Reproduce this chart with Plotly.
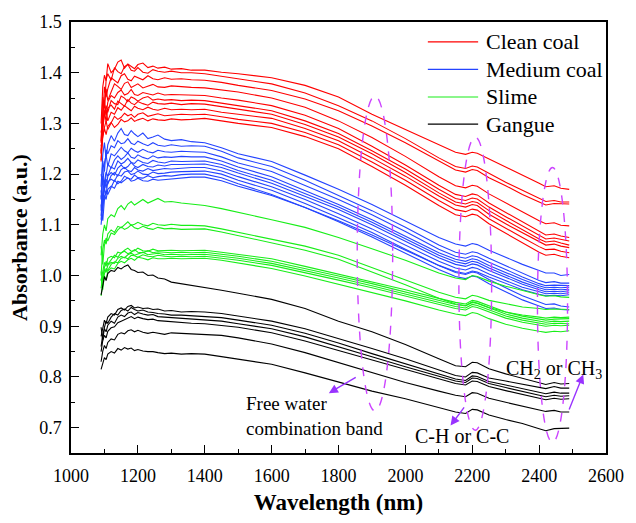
import plotly.graph_objects as go

# ---------------- data ----------------
WAVELENGTH = [1090, 1095, 1100, 1105, 1110, 1120, 1130, 1140, 1150, 1160,
              1170, 1180, 1190, 1200, 1215, 1230, 1245, 1260, 1280, 1300,
              1330, 1360, 1400, 1450, 1500, 1600, 1700, 1800, 1900, 2000,
              2100, 2150, 2180, 2200, 2215, 2250, 2300, 2350, 2400, 2420,
              2445, 2465, 2490]

CLEAN_COAL = [
    [1.300, 1.372, 1.395, 1.384, 1.418, 1.400, 1.407, 1.421, 1.425, 1.409, 1.417, 1.412, 1.408, 1.416, 1.419, 1.410, 1.413, 1.409, 1.411, 1.407, 1.408, 1.405, 1.405, 1.401,
     1.398, 1.390, 1.375, 1.352, 1.318, 1.288, 1.258, 1.243, 1.239, 1.243, 1.241, 1.230, 1.215, 1.198, 1.182, 1.175, 1.177, 1.172, 1.170],
    [1.265, 1.352, 1.330, 1.386, 1.398, 1.385, 1.410, 1.402, 1.398, 1.412, 1.416, 1.405, 1.403, 1.410, 1.401, 1.399, 1.406, 1.403, 1.401, 1.403, 1.400, 1.400, 1.398, 1.393,
     1.388, 1.378, 1.360, 1.335, 1.305, 1.270, 1.232, 1.215, 1.211, 1.216, 1.214, 1.201, 1.184, 1.168, 1.152, 1.146, 1.148, 1.145, 1.145],
    [1.245, 1.318, 1.372, 1.352, 1.368, 1.390, 1.385, 1.380, 1.394, 1.398, 1.387, 1.384, 1.393, 1.390, 1.386, 1.394, 1.388, 1.386, 1.390, 1.387, 1.388, 1.386, 1.385, 1.381,
     1.375, 1.365, 1.348, 1.325, 1.295, 1.262, 1.225, 1.208, 1.204, 1.209, 1.207, 1.193, 1.177, 1.160, 1.145, 1.139, 1.142, 1.142, 1.141],
    [1.240, 1.300, 1.338, 1.368, 1.345, 1.362, 1.378, 1.373, 1.367, 1.379, 1.382, 1.371, 1.374, 1.378, 1.370, 1.373, 1.377, 1.372, 1.371, 1.374, 1.372, 1.371, 1.370, 1.366,
     1.362, 1.350, 1.332, 1.305, 1.272, 1.235, 1.195, 1.177, 1.173, 1.178, 1.176, 1.161, 1.143, 1.125, 1.108, 1.102, 1.104, 1.099, 1.098],
    [1.262, 1.320, 1.346, 1.316, 1.342, 1.355, 1.350, 1.361, 1.366, 1.356, 1.359, 1.367, 1.357, 1.355, 1.361, 1.358, 1.356, 1.360, 1.356, 1.357, 1.356, 1.355, 1.355, 1.350,
     1.346, 1.335, 1.316, 1.290, 1.255, 1.218, 1.178, 1.160, 1.156, 1.161, 1.159, 1.143, 1.124, 1.105, 1.087, 1.080, 1.082, 1.078, 1.075],
    [1.228, 1.298, 1.318, 1.335, 1.322, 1.345, 1.339, 1.337, 1.354, 1.350, 1.343, 1.352, 1.349, 1.344, 1.350, 1.353, 1.346, 1.348, 1.346, 1.347, 1.345, 1.346, 1.345, 1.340,
     1.336, 1.325, 1.305, 1.280, 1.246, 1.210, 1.170, 1.152, 1.148, 1.153, 1.151, 1.135, 1.116, 1.097, 1.079, 1.072, 1.074, 1.071, 1.068],
    [1.282, 1.310, 1.326, 1.302, 1.330, 1.336, 1.328, 1.344, 1.338, 1.334, 1.347, 1.340, 1.337, 1.343, 1.339, 1.336, 1.342, 1.339, 1.338, 1.340, 1.337, 1.339, 1.338, 1.333,
     1.328, 1.318, 1.298, 1.273, 1.240, 1.203, 1.163, 1.145, 1.141, 1.146, 1.144, 1.128, 1.109, 1.090, 1.072, 1.066, 1.068, 1.064, 1.060],
    [1.242, 1.290, 1.316, 1.325, 1.305, 1.322, 1.318, 1.331, 1.326, 1.335, 1.330, 1.325, 1.334, 1.330, 1.327, 1.332, 1.328, 1.326, 1.330, 1.327, 1.328, 1.327, 1.328, 1.322,
     1.318, 1.310, 1.290, 1.266, 1.232, 1.196, 1.157, 1.139, 1.135, 1.140, 1.138, 1.121, 1.102, 1.084, 1.066, 1.060, 1.062, 1.058, 1.055],
    [1.225, 1.275, 1.292, 1.305, 1.288, 1.300, 1.314, 1.308, 1.312, 1.320, 1.315, 1.318, 1.312, 1.318, 1.321, 1.314, 1.316, 1.319, 1.315, 1.316, 1.318, 1.317, 1.318, 1.313,
     1.308, 1.300, 1.282, 1.258, 1.224, 1.188, 1.148, 1.130, 1.126, 1.131, 1.129, 1.112, 1.093, 1.075, 1.057, 1.051, 1.052, 1.048, 1.045],
    [1.255, 1.270, 1.290, 1.278, 1.294, 1.302, 1.292, 1.298, 1.308, 1.303, 1.305, 1.311, 1.304, 1.307, 1.310, 1.305, 1.309, 1.307, 1.306, 1.309, 1.307, 1.308, 1.310, 1.305,
     1.300, 1.292, 1.274, 1.250, 1.215, 1.178, 1.138, 1.120, 1.116, 1.121, 1.119, 1.102, 1.083, 1.064, 1.046, 1.040, 1.042, 1.038, 1.035],
]

MEDIUM_COAL = [
    [1.175, 1.238, 1.262, 1.230, 1.258, 1.276, 1.265, 1.281, 1.290, 1.278, 1.276, 1.286, 1.279, 1.274, 1.281, 1.270, 1.273, 1.277, 1.269, 1.266, 1.268, 1.264, 1.262, 1.252,
     1.240, 1.225, 1.198, 1.170, 1.140, 1.108, 1.075, 1.062, 1.058, 1.063, 1.061, 1.050, 1.036, 1.022, 1.010, 1.005, 1.005, 1.000, 1.002],
    [1.150, 1.226, 1.205, 1.248, 1.240, 1.256, 1.252, 1.266, 1.260, 1.262, 1.270, 1.261, 1.258, 1.265, 1.260, 1.256, 1.262, 1.257, 1.255, 1.258, 1.255, 1.256, 1.255, 1.245,
     1.232, 1.215, 1.188, 1.158, 1.128, 1.095, 1.060, 1.046, 1.042, 1.047, 1.045, 1.034, 1.019, 1.004, 0.990, 0.986, 0.988, 0.985, 0.985],
    [1.200, 1.178, 1.222, 1.238, 1.215, 1.240, 1.236, 1.245, 1.253, 1.246, 1.242, 1.251, 1.246, 1.243, 1.249, 1.244, 1.242, 1.247, 1.244, 1.243, 1.245, 1.244, 1.243, 1.234,
     1.222, 1.205, 1.178, 1.150, 1.120, 1.087, 1.052, 1.038, 1.034, 1.039, 1.037, 1.026, 1.012, 0.997, 0.984, 0.980, 0.981, 0.980, 0.980],
    [1.128, 1.196, 1.175, 1.198, 1.220, 1.212, 1.228, 1.236, 1.229, 1.234, 1.242, 1.233, 1.231, 1.238, 1.233, 1.230, 1.236, 1.232, 1.234, 1.233, 1.235, 1.234, 1.234, 1.226,
     1.214, 1.195, 1.168, 1.140, 1.110, 1.078, 1.045, 1.032, 1.028, 1.033, 1.031, 1.020, 1.006, 0.992, 0.980, 0.976, 0.977, 0.976, 0.977],
    [1.168, 1.142, 1.186, 1.204, 1.196, 1.214, 1.210, 1.226, 1.220, 1.224, 1.231, 1.223, 1.221, 1.228, 1.223, 1.221, 1.227, 1.224, 1.222, 1.226, 1.225, 1.226, 1.226, 1.219,
     1.207, 1.188, 1.162, 1.135, 1.105, 1.073, 1.040, 1.027, 1.023, 1.028, 1.026, 1.015, 1.001, 0.987, 0.976, 0.972, 0.973, 0.972, 0.973],
    [1.118, 1.165, 1.188, 1.172, 1.196, 1.203, 1.198, 1.212, 1.218, 1.211, 1.215, 1.223, 1.216, 1.213, 1.219, 1.215, 1.214, 1.218, 1.216, 1.219, 1.219, 1.220, 1.220, 1.213,
     1.202, 1.182, 1.156, 1.130, 1.100, 1.068, 1.035, 1.022, 1.018, 1.023, 1.021, 1.010, 0.997, 0.983, 0.972, 0.968, 0.969, 0.968, 0.970],
    [1.158, 1.127, 1.172, 1.190, 1.180, 1.197, 1.203, 1.196, 1.209, 1.213, 1.207, 1.205, 1.213, 1.208, 1.206, 1.211, 1.207, 1.209, 1.211, 1.210, 1.212, 1.213, 1.213, 1.206,
     1.195, 1.175, 1.150, 1.122, 1.092, 1.060, 1.028, 1.015, 1.011, 1.016, 1.014, 1.003, 0.990, 0.977, 0.968, 0.964, 0.965, 0.964, 0.966],
    [1.110, 1.155, 1.172, 1.160, 1.185, 1.190, 1.186, 1.199, 1.196, 1.204, 1.206, 1.199, 1.201, 1.206, 1.200, 1.199, 1.204, 1.201, 1.202, 1.204, 1.205, 1.206, 1.206, 1.200,
     1.188, 1.168, 1.142, 1.114, 1.085, 1.052, 1.020, 1.006, 1.002, 1.007, 1.005, 0.992, 0.976, 0.960, 0.948, 0.943, 0.944, 0.940, 0.938],
    [1.140, 1.108, 1.150, 1.166, 1.160, 1.174, 1.188, 1.181, 1.186, 1.196, 1.192, 1.190, 1.198, 1.193, 1.192, 1.197, 1.193, 1.195, 1.197, 1.196, 1.199, 1.200, 1.200, 1.193,
     1.181, 1.160, 1.134, 1.106, 1.076, 1.044, 1.012, 0.998, 0.994, 0.999, 0.997, 0.984, 0.968, 0.952, 0.940, 0.935, 0.936, 0.933, 0.932],
    [1.100, 1.140, 1.158, 1.150, 1.170, 1.176, 1.172, 1.186, 1.183, 1.188, 1.193, 1.186, 1.188, 1.192, 1.187, 1.186, 1.190, 1.188, 1.189, 1.191, 1.192, 1.194, 1.194, 1.187,
     1.176, 1.158, 1.134, 1.108, 1.080, 1.050, 1.020, 1.008, 1.004, 1.009, 1.007, 0.997, 0.985, 0.972, 0.963, 0.960, 0.961, 0.960, 0.962],
]

SLIME = [
    [1.040, 1.082, 1.100, 1.088, 1.112, 1.120, 1.116, 1.132, 1.138, 1.130, 1.141, 1.146, 1.139, 1.144, 1.150, 1.143, 1.147, 1.152, 1.145, 1.146, 1.143, 1.141, 1.138, 1.132,
     1.125, 1.110, 1.095, 1.075, 1.053, 1.030, 1.005, 0.995, 0.992, 1.000, 0.998, 0.989, 0.979, 0.970, 0.962, 0.959, 0.960, 0.958, 0.957],
    [1.000, 1.052, 1.070, 1.062, 1.082, 1.090, 1.085, 1.097, 1.094, 1.101, 1.106, 1.099, 1.101, 1.105, 1.100, 1.098, 1.103, 1.100, 1.099, 1.101, 1.099, 1.099, 1.098, 1.092,
     1.085, 1.072, 1.058, 1.040, 1.016, 0.992, 0.967, 0.957, 0.954, 0.961, 0.959, 0.951, 0.944, 0.938, 0.935, 0.933, 0.934, 0.933, 0.933],
    [1.058, 1.022, 1.060, 1.074, 1.068, 1.084, 1.081, 1.090, 1.096, 1.091, 1.094, 1.100, 1.094, 1.092, 1.097, 1.093, 1.091, 1.095, 1.092, 1.093, 1.091, 1.092, 1.092, 1.086,
     1.079, 1.065, 1.050, 1.032, 1.007, 0.982, 0.955, 0.944, 0.941, 0.948, 0.946, 0.937, 0.928, 0.922, 0.918, 0.916, 0.918, 0.917, 0.918],
    [0.990, 1.012, 1.026, 1.018, 1.034, 1.038, 1.035, 1.046, 1.044, 1.050, 1.054, 1.048, 1.049, 1.054, 1.049, 1.048, 1.052, 1.049, 1.050, 1.050, 1.049, 1.049, 1.050, 1.046,
     1.042, 1.033, 1.018, 1.003, 0.988, 0.972, 0.955, 0.947, 0.944, 0.951, 0.949, 0.940, 0.928, 0.920, 0.914, 0.912, 0.914, 0.914, 0.915],
    [1.008, 0.986, 1.016, 1.028, 1.022, 1.032, 1.040, 1.036, 1.045, 1.048, 1.043, 1.046, 1.051, 1.046, 1.045, 1.049, 1.045, 1.047, 1.046, 1.045, 1.046, 1.045, 1.046, 1.042,
     1.038, 1.028, 1.014, 0.999, 0.984, 0.968, 0.951, 0.943, 0.940, 0.947, 0.945, 0.936, 0.924, 0.916, 0.910, 0.908, 0.910, 0.909, 0.910],
    [0.975, 1.000, 1.012, 1.006, 1.020, 1.026, 1.024, 1.034, 1.038, 1.035, 1.041, 1.044, 1.040, 1.042, 1.046, 1.041, 1.043, 1.044, 1.041, 1.042, 1.041, 1.042, 1.042, 1.038,
     1.034, 1.024, 1.010, 0.995, 0.980, 0.964, 0.947, 0.939, 0.936, 0.943, 0.941, 0.932, 0.920, 0.912, 0.906, 0.904, 0.906, 0.905, 0.905],
    [0.994, 0.972, 1.004, 1.014, 1.010, 1.022, 1.027, 1.025, 1.034, 1.036, 1.033, 1.040, 1.039, 1.036, 1.041, 1.038, 1.037, 1.040, 1.038, 1.037, 1.038, 1.037, 1.038, 1.034,
     1.030, 1.020, 1.006, 0.991, 0.976, 0.960, 0.943, 0.935, 0.932, 0.939, 0.937, 0.928, 0.916, 0.908, 0.902, 0.900, 0.902, 0.901, 0.902],
    [0.960, 0.985, 0.998, 0.992, 1.008, 1.015, 1.013, 1.024, 1.028, 1.025, 1.031, 1.034, 1.030, 1.036, 1.034, 1.031, 1.035, 1.033, 1.033, 1.034, 1.033, 1.034, 1.034, 1.030,
     1.025, 1.014, 0.999, 0.983, 0.967, 0.950, 0.932, 0.924, 0.921, 0.927, 0.925, 0.915, 0.904, 0.896, 0.890, 0.888, 0.890, 0.889, 0.891],
]

GANGUE = [
    [0.962, 0.985, 0.998, 0.990, 1.004, 1.010, 1.008, 1.016, 1.013, 1.018, 1.021, 1.012, 1.010, 1.006, 1.007, 1.000, 1.001, 0.995, 0.993, 0.987, 0.984, 0.980, 0.976, 0.971,
     0.965, 0.953, 0.935, 0.910, 0.889, 0.864, 0.836, 0.822, 0.820, 0.829, 0.828, 0.816, 0.806, 0.797, 0.789, 0.785, 0.789, 0.786, 0.787],
    [0.880, 0.900, 0.912, 0.905, 0.918, 0.925, 0.922, 0.933, 0.936, 0.932, 0.939, 0.941, 0.936, 0.938, 0.935, 0.936, 0.933, 0.934, 0.930, 0.931, 0.928, 0.929, 0.928, 0.925,
     0.920, 0.910, 0.895, 0.876, 0.856, 0.836, 0.815, 0.803, 0.800, 0.809, 0.808, 0.798, 0.792, 0.786, 0.780, 0.777, 0.781, 0.778, 0.778],
    [0.898, 0.872, 0.898, 0.910, 0.906, 0.918, 0.925, 0.922, 0.931, 0.934, 0.930, 0.937, 0.933, 0.930, 0.932, 0.928, 0.927, 0.925, 0.924, 0.922, 0.922, 0.921, 0.920, 0.917,
     0.912, 0.902, 0.886, 0.867, 0.846, 0.826, 0.806, 0.796, 0.793, 0.802, 0.801, 0.791, 0.784, 0.777, 0.770, 0.767, 0.770, 0.768, 0.768],
    [0.860, 0.884, 0.895, 0.889, 0.902, 0.910, 0.906, 0.918, 0.922, 0.919, 0.926, 0.928, 0.923, 0.927, 0.924, 0.922, 0.923, 0.919, 0.918, 0.917, 0.915, 0.914, 0.912, 0.910,
     0.905, 0.895, 0.879, 0.860, 0.840, 0.820, 0.801, 0.792, 0.789, 0.798, 0.797, 0.787, 0.779, 0.772, 0.764, 0.761, 0.764, 0.762, 0.763],
    [0.850, 0.872, 0.882, 0.877, 0.890, 0.897, 0.899, 0.907, 0.910, 0.913, 0.916, 0.919, 0.915, 0.918, 0.915, 0.913, 0.914, 0.911, 0.910, 0.909, 0.907, 0.906, 0.905, 0.902,
     0.898, 0.887, 0.871, 0.852, 0.833, 0.814, 0.796, 0.787, 0.784, 0.792, 0.791, 0.781, 0.773, 0.766, 0.758, 0.755, 0.758, 0.756, 0.757],
    [0.830, 0.851, 0.862, 0.856, 0.868, 0.875, 0.873, 0.884, 0.887, 0.885, 0.891, 0.893, 0.889, 0.892, 0.888, 0.886, 0.888, 0.886, 0.884, 0.887, 0.886, 0.886, 0.885, 0.882,
     0.877, 0.865, 0.848, 0.828, 0.808, 0.789, 0.772, 0.764, 0.761, 0.769, 0.768, 0.758, 0.750, 0.743, 0.736, 0.732, 0.734, 0.731, 0.731],
    [0.815, 0.828, 0.838, 0.834, 0.845, 0.850, 0.847, 0.856, 0.853, 0.858, 0.855, 0.857, 0.852, 0.854, 0.851, 0.850, 0.850, 0.848, 0.846, 0.847, 0.845, 0.846, 0.845, 0.840,
     0.835, 0.825, 0.808, 0.790, 0.772, 0.757, 0.740, 0.731, 0.728, 0.736, 0.735, 0.725, 0.716, 0.708, 0.698, 0.694, 0.698, 0.698, 0.699],
]

GROUP_NAMES = ["Clean coal", "Medium coal", "Slime", "Gangue"]
X_TICKS = [1000, 1200, 1400, 1600, 1800, 2000, 2200, 2400, 2600]
Y_TICKS = [0.7, 0.8, 0.9, 1.0, 1.1, 1.2, 1.3, 1.4, 1.5]

# ---------------- styling ----------------
FONT = "Liberation Serif"
COLORS = ["#FF0000", "#2444FF", "#18EE18", "#000000"]
ELLIPSE_COLOR = "#CC44FF"
ARROW_COLOR = "#9933FF"

fig = go.Figure()
for curves, color, name in zip([CLEAN_COAL, MEDIUM_COAL, SLIME, GANGUE], COLORS, GROUP_NAMES):
    for ys in curves:
        fig.add_trace(go.Scatter(x=WAVELENGTH, y=ys, mode="lines", name=name,
                                 legendgroup=name, showlegend=False,
                                 line=dict(color=color, width=1.1)))

# dashed ellipses marking absorption bands
for (xa, xb, ya, yb) in [(1856, 1962, 0.733, 1.354), (2160, 2258, 0.695, 1.273), (2395, 2485, 0.671, 1.213)]:
    fig.add_shape(type="circle", xref="x", yref="y", x0=xa, x1=xb, y0=ya, y1=yb,
                  line=dict(color=ELLIPSE_COLOR, width=1.4, dash="dash"))

# manual legend
leg_y = [0.954, 0.890, 0.826, 0.763]
for name, color, yy in zip(GROUP_NAMES, COLORS, leg_y):
    fig.add_shape(type="line", xref="paper", yref="paper", x0=0.667, x1=0.761, y0=yy, y1=yy,
                  line=dict(color=color, width=1.2))
    fig.add_annotation(xref="paper", yref="paper", x=0.772, y=yy, text=name, showarrow=False,
                       xanchor="left", yanchor="middle", font=dict(family=FONT, size=22, color="black"))

# text labels and arrows
fig.add_annotation(x=1518, y=0.722, xref="x", yref="y", text="Free water<br>combination band",
                   showarrow=False, xanchor="left", yanchor="middle", align="left",
                   font=dict(family=FONT, size=19, color="black"))
fig.add_annotation(x=2168, y=0.684, xref="x", yref="y", text="C-H or C-C", showarrow=False,
                   xanchor="center", yanchor="middle", font=dict(family=FONT, size=20, color="black"))
fig.add_annotation(x=2443, y=0.814, xref="x", yref="y", text="CH<sub>2</sub> or CH<sub>3</sub>",
                   showarrow=False, xanchor="center", yanchor="middle", font=dict(family=FONT, size=20, color="black"))

for (hx, hy, tx, ty) in [(1771, 0.768, 1856, 0.801), (2135, 0.704, 2179, 0.743), (2532, 0.805, 2488, 0.733)]:
    fig.add_annotation(x=hx, y=hy, ax=tx, ay=ty, xref="x", yref="y", axref="x", ayref="y",
                       text="", showarrow=True, arrowhead=2, arrowsize=1.3, arrowwidth=1.4,
                       arrowcolor=ARROW_COLOR)

axis_common = dict(showline=True, linecolor="black", linewidth=1.5, mirror=True,
                   ticks="inside", ticklen=8, tickwidth=1.3, tickcolor="black",
                   showgrid=False, zeroline=False,
                   tickfont=dict(family=FONT, size=18, color="black"))

fig.update_xaxes(range=[1000, 2600], tickvals=X_TICKS, ticklabelstandoff=6,
                 minor=dict(dtick=100, tick0=1000, ticks="inside", ticklen=4, tickwidth=1.3, tickcolor="black"),
                 title=dict(text="<b>Wavelength (nm)</b>", font=dict(family=FONT, size=23, color="black"), standoff=9),
                 **axis_common)
fig.update_yaxes(range=[0.65, 1.5], tickvals=Y_TICKS, tickformat=".1f", ticklabelstandoff=4,
                 minor=dict(dtick=0.05, tick0=0.65, ticks="inside", ticklen=4, tickwidth=1.3, tickcolor="black"),
                 title=dict(text="<b>Absorbance (a.u.)</b>", font=dict(family=FONT, size=22, color="black"), standoff=5),
                 **axis_common)

fig.update_layout(width=636, height=523, margin=dict(l=71, r=21, t=20, b=65),
                  paper_bgcolor="white", plot_bgcolor="white", showlegend=False)

fig.write_html("out.html")
